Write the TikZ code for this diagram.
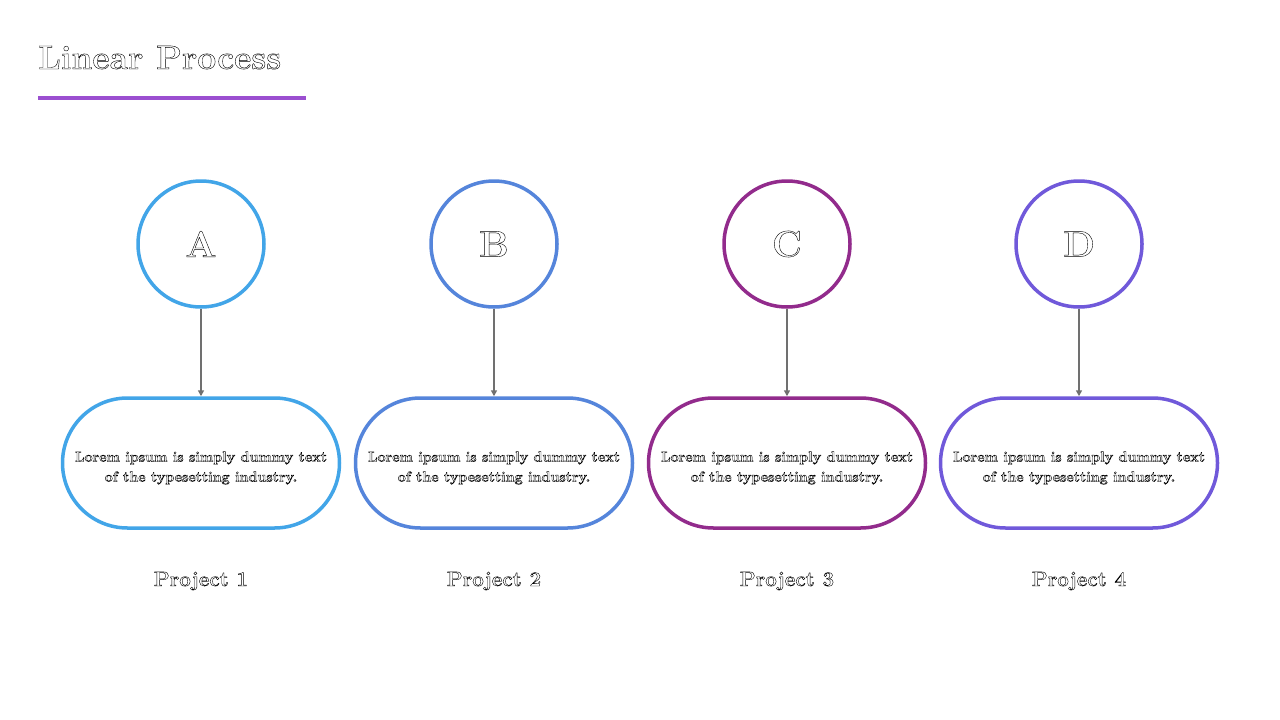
\documentclass[tikz,border=0pt]{standalone}
\usetikzlibrary{arrows.meta,shapes.misc}
\definecolor{cA}{HTML}{42A5E8}
\definecolor{cB}{HTML}{5585DB}
\definecolor{cC}{HTML}{922B8C}
\definecolor{cD}{HTML}{7059DA}
\definecolor{cT}{HTML}{9B4FD0}
\definecolor{cArr}{HTML}{707070}
\newcommand{\outl}[1]{\special{pdf:code q 1 Tr 0.4 w}#1\special{pdf:code Q}}
\tikzset{
  circnode/.style={circle,draw=#1,line width=3.5pt,minimum size=126pt,inner sep=0pt,font=\bfseries\fontsize{37}{40}\selectfont},
  boxnode/.style={rounded rectangle,draw=#1,line width=3.5pt,minimum width=277pt,minimum height=130pt,inner sep=0pt},
  boxtext/.style={font=\bfseries\fontsize{14.3}{20}\selectfont,align=center,inner sep=0pt},
  projlabel/.style={font=\bfseries\fontsize{20.7}{24}\selectfont},
  conn/.style={draw=cArr,line width=1.5pt,-{Triangle[length=6pt,width=6pt]}}
}
\begin{document}
\begin{tikzpicture}[x=1pt,y=-1pt]
\useasboundingbox (0,0) rectangle (1280,720);
\fill[white] (0,0) rectangle (1280,720);
\node[anchor=base west,inner sep=0pt,font=\bfseries\fontsize{33.6}{38}\selectfont] (title) at (38,69) {\outl{Linear Process}};
\draw[cT,line width=4pt] (38,98) coordinate (ul1) -- (306,98) coordinate (ul2);
\foreach \x/\c/\L/\n in {201/cA/A/1,494/cB/B/2,787/cC/C/3,1079/cD/D/4}{
  \node[circnode=\c] (c\n) at (\x,244) {\outl{\L}};
  \node[boxnode=\c] (b\n) at (\x,463) {};
  \node[boxtext] (t\n) at (\x,468) {\outl{Lorem ipsum is simply dummy text}\\\outl{of the typesetting industry.}};
  \node[projlabel] (p\n) at (\x,581) {\outl{Project \n}};
  \draw[conn] (c\n) -- (b\n);
}
\end{tikzpicture}
\end{document}
